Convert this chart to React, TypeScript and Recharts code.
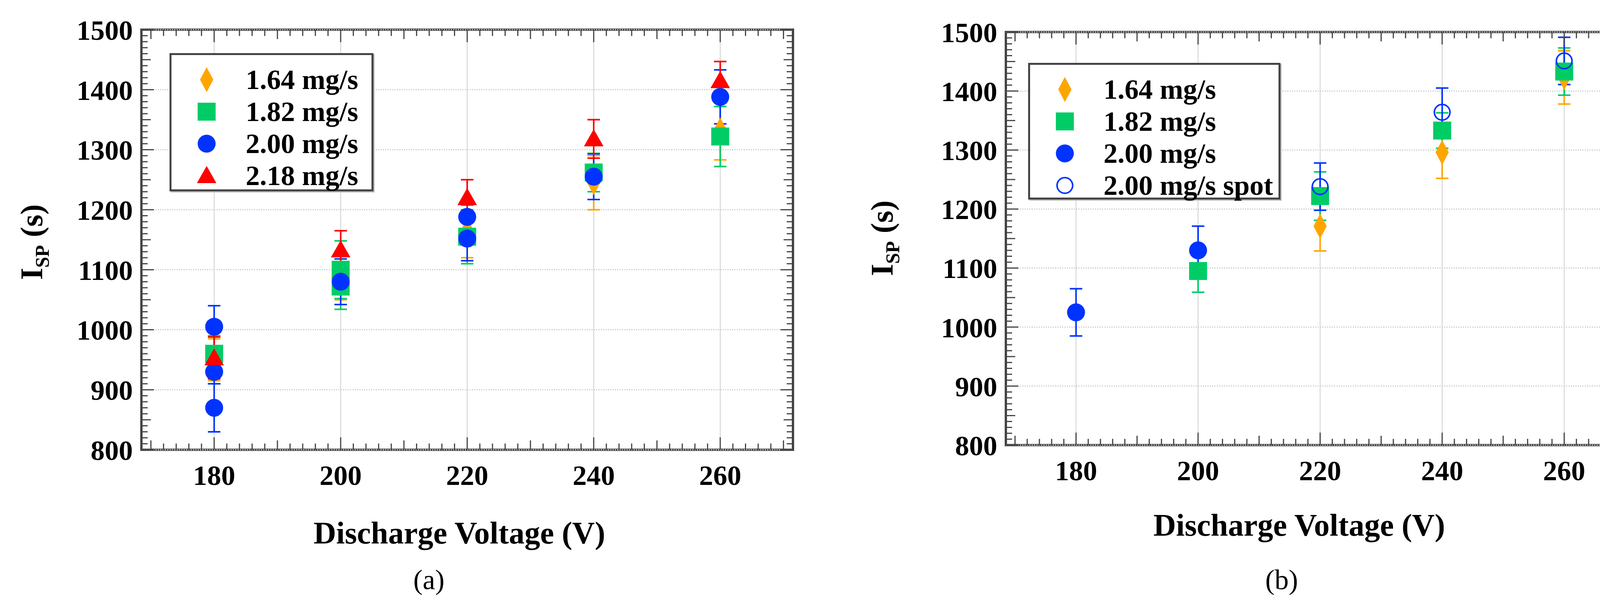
import React from 'react';
import { ScatterChart, Scatter, XAxis, YAxis, ErrorBar, ReferenceLine, ReferenceArea } from 'recharts';

// ---- data (voltage V, Isp s, error s) ----
const aOrange = [ { v: 180, i: 950, e: 35 }, { v: 200, i: 1090, e: 40 }, { v: 220, i: 1165, e: 45 }, { v: 240, i: 1245, e: 45 }, { v: 260, i: 1333, e: 50 } ];
const aGreen = [ { v: 180, i: 960, e: 30 }, { v: 200, i: 1100, e: 48 }, { v: 200, i: 1072, e: 38 }, { v: 220, i: 1155, e: 45 }, { v: 240, i: 1262, e: 32 }, { v: 260, i: 1322, e: 50 } ];
const aBlue = [ { v: 180, i: 1005, e: 35 }, { v: 180, i: 930, e: 20 }, { v: 180, i: 870, e: 40 }, { v: 200, i: 1080, e: 38 }, { v: 220, i: 1188, e: 20 }, { v: 220, i: 1152, e: 37 }, { v: 240, i: 1255, e: 38 }, { v: 260, i: 1388, e: 45 } ];
const aRed = [ { v: 180, i: 953, e: 35 }, { v: 200, i: 1133, e: 32 }, { v: 220, i: 1220, e: 30 }, { v: 240, i: 1318, e: 32 }, { v: 260, i: 1415, e: 32 } ];

const bOrange = [ { v: 220, i: 1171, e: 42 }, { v: 240, i: 1296, e: 44 }, { v: 260, i: 1423, e: 45 } ];
const bGreen = [ { v: 200, i: 1095, e: 36 }, { v: 220, i: 1222, e: 41 }, { v: 240, i: 1333, e: 30 }, { v: 260, i: 1433, e: 40 } ];
const bBlue = [ { v: 180, i: 1025, e: 40 }, { v: 200, i: 1130, e: 41 } ];
const bSpot = [ { v: 220, i: 1238, e: 40 }, { v: 240, i: 1364, e: 41 }, { v: 260, i: 1451, e: 40 } ];

const xMajor = [180, 200, 220, 240, 260];
const xMid = [170, 190, 210, 230, 250, 270];
const xAll = [170,172,174,176,178,180,182,184,186,188,190,192,194,196,198,200,202,204,206,208,210,212,214,216,218,220,222,224,226,228,230,232,234,236,238,240,242,244,246,248,250,252,254,256,258,260,262,264,266,268,270];
const yMajor = [800, 900, 1000, 1100, 1200, 1300, 1400, 1500];
const yMid = [850, 950, 1050, 1150, 1250, 1350, 1450];
const yAll = [800,810,820,830,840,850,860,870,880,890,900,910,920,930,940,950,960,970,980,990,1000,1010,1020,1030,1040,1050,1060,1070,1080,1090,1100,1110,1120,1130,1140,1150,1160,1170,1180,1190,1200,1210,1220,1230,1240,1250,1260,1270,1280,1290,1300,1310,1320,1330,1340,1350,1360,1370,1380,1390,1400,1410,1420,1430,1440,1450,1460,1470,1480,1490,1500];

const ORANGE = '#FFA500', GREEN = '#00CC66', BLUE = '#0033FF', RED = '#FF0000';
const FONT = '"Liberation Serif", "DejaVu Serif", serif';
const AX = '#444';
const XDOM: [number, number] = [168.5, 271.5];
const YDOM: [number, number] = [800, 1500];

const Diamond = (c: string, w = 34, h = 64) => (p: any) => (
  <polygon points={`${p.cx},${p.cy - h / 2} ${p.cx + w / 2},${p.cy} ${p.cx},${p.cy + h / 2} ${p.cx - w / 2},${p.cy}`} fill={c} />
);
const Square = (c: string, s = 46) => (p: any) => <rect x={p.cx - s / 2} y={p.cy - s / 2} width={s} height={s} fill={c} />;
const Circle = (c: string, r = 23) => (p: any) => <ellipse cx={p.cx} cy={p.cy} rx={r} ry={r} fill={c} />;
const Ring = (c: string, r = 20) => (p: any) => <ellipse cx={p.cx} cy={p.cy} rx={r} ry={r} fill="none" stroke={c} strokeWidth={4} />;
const Tri = (c: string, s = 50) => (p: any) => (
  <polygon points={`${p.cx},${p.cy - s / 2} ${p.cx + s / 2},${p.cy + s / 2 - 6} ${p.cx - s / 2},${p.cy + s / 2 - 6}`} fill={c} />
);

const tickLen = (v: number, major: number[], mid: number[]) => (major.includes(v) ? 32 : mid.includes(v) ? 24 : 16);

const XTick = (plotH: number) => (p: any) => {
  const v = p.payload.value;
  const len = tickLen(v, xMajor, xMid);
  const top = p.y - plotH;
  return (
    <g>
      <line x1={p.x} x2={p.x} y1={p.y} y2={p.y - len} stroke={AX} strokeWidth={3} />
      <line x1={p.x} x2={p.x} y1={top} y2={top + len} stroke={AX} strokeWidth={3} />
      {xMajor.includes(v) && (
        <text x={p.x} y={p.y + 90} textAnchor="middle" fontSize={72} fontFamily={FONT} fontWeight="bold" fill="#000">{v}</text>
      )}
    </g>
  );
};

const YTick = (plotW: number) => (p: any) => {
  const v = p.payload.value;
  const len = tickLen(v, yMajor, yMid);
  const right = p.x + plotW;
  return (
    <g>
      <line x1={p.x} x2={p.x + len} y1={p.y} y2={p.y} stroke={AX} strokeWidth={3} />
      <line x1={right} x2={right - len} y1={p.y} y2={p.y} stroke={AX} strokeWidth={3} />
      {yMajor.includes(v) && (
        <text x={p.x - 22} y={p.y} dy="0.36em" textAnchor="end" fontSize={72} fontFamily={FONT} fontWeight="bold" fill="#000">{v}</text>
      )}
    </g>
  );
};

type Series = { name: string; data: any[]; color: string; shape: (c: string) => (p: any) => any };

function Panel({ series, width, height, margin, yW, xH }: { series: Series[]; width: number; height: number; margin: any; yW: number; xH: number }) {
  const plotW = width - yW - margin.right;
  const plotH = height - margin.top - xH;
  return (
    <ScatterChart width={width} height={height} margin={margin}>
      <XAxis type="number" dataKey="v" domain={XDOM} allowDataOverflow ticks={xAll} interval={0} height={xH} tickLine={false} tickSize={0} tickMargin={0}
        axisLine={false} tick={XTick(plotH)} />
      <YAxis type="number" dataKey="i" domain={YDOM} allowDataOverflow ticks={yAll} interval={0} width={yW} tickLine={false} tickSize={0} tickMargin={0}
        axisLine={false} tick={YTick(plotW)} />
      {xMajor.map((v) => <ReferenceLine key={'gx' + v} x={v} stroke="#cfcfcf" strokeWidth={2} />)}
      {yMajor.map((v) => <ReferenceLine key={'gy' + v} y={v} stroke="#cfcfcf" strokeWidth={3} strokeDasharray="3 3" />)}
      <ReferenceArea x1={XDOM[0]} x2={XDOM[1]} y1={YDOM[0]} y2={YDOM[1]} fill="none" fillOpacity={0} stroke={AX} strokeWidth={6} ifOverflow="visible" />
      {series.map((s) => (
        <Scatter key={s.name} name={s.name} data={s.data} isAnimationActive={false} shape={s.shape(s.color)}>
          <ErrorBar dataKey="e" direction="y" width={16} stroke={s.color} strokeWidth={4} />
        </Scatter>
      ))}
    </ScatterChart>
  );
}

function LegendBox({ series, left, top, width, height, rowH, mx, tx }: any) {
  return (
    <div style={{ position: 'absolute', left, top, width, height, background: '#fff', border: '5px solid #444', boxSizing: 'border-box', boxShadow: '3px 3px 0 #bbb' }}>
      {series.map((s: Series, k: number) => (
        <div key={s.name} style={{ position: 'absolute', left: 0, top: 22 + k * rowH, height: rowH, width: '100%' }}>
          <svg style={{ position: 'absolute', left: mx - 35, top: 0 }} width={70} height={rowH}>
            {s.shape(s.color)({ cx: 35, cy: rowH / 2 })}
          </svg>
          <div style={{ position: 'absolute', left: tx, top: 0, lineHeight: `${rowH}px`, fontFamily: FONT, fontWeight: 'bold', fontSize: 72, whiteSpace: 'nowrap' }}>{s.name}</div>
        </div>
      ))}
    </div>
  );
}

function YTitle({ cx, cy }: { cx: number; cy: number }) {
  return (
    <div style={{ position: 'absolute', left: cx - 200, top: cy - 50, width: 400, height: 100, transform: 'rotate(-90deg)', textAlign: 'center',
      fontFamily: FONT, fontWeight: 'bold', fontSize: 80, lineHeight: '100px', whiteSpace: 'nowrap' }}>
      I<sub style={{ fontSize: 50 }}>SP</sub> (s)
    </div>
  );
}

function Caption({ cx, cy, text, size, bold }: any) {
  return (
    <div style={{ position: 'absolute', left: cx - 600, top: cy - 60, width: 1200, height: 120, lineHeight: '120px', textAlign: 'center',
      fontFamily: FONT, fontWeight: bold ? 'bold' : 'normal', fontSize: size, whiteSpace: 'nowrap' }}>{text}</div>
  );
}

export default function App() {
  const seriesA: Series[] = [
    { name: '1.64 mg/s', data: aOrange, color: ORANGE, shape: Diamond as any },
    { name: '1.82 mg/s', data: aGreen, color: GREEN, shape: Square as any },
    { name: '2.00 mg/s', data: aBlue, color: BLUE, shape: Circle as any },
    { name: '2.18 mg/s', data: aRed, color: RED, shape: Tri as any },
  ];
  const seriesB: Series[] = [
    { name: '1.64 mg/s', data: bOrange, color: ORANGE, shape: Diamond as any },
    { name: '1.82 mg/s', data: bGreen, color: GREEN, shape: Square as any },
    { name: '2.00 mg/s', data: bBlue, color: BLUE, shape: Circle as any },
    { name: '2.00 mg/s spot', data: bSpot, color: BLUE, shape: Ring as any },
  ];
  return (
    <div style={{ position: 'absolute', left: 0, top: 0, width: 4224, height: 1547, background: '#fff', overflow: 'hidden' }}>
      <div style={{ position: 'absolute', left: 0, top: 0 }}>
        <Panel series={seriesA} width={2100} height={1547} margin={{ top: 76, right: 70, left: 0, bottom: 0 }} yW={362} xH={395} />
      </div>
      <div style={{ position: 'absolute', left: 2100, top: 0 }}>
        <Panel series={seriesB} width={2124} height={1547} margin={{ top: 82, right: 40, left: 0, bottom: 0 }} yW={475} xH={407} />
      </div>
      <LegendBox series={seriesA} left={434} top={136} width={522} height={354} rowH={82} mx={90} tx={190} />
      <LegendBox series={seriesB} left={2632} top={161} width={646} height={350} rowH={82} mx={89} tx={188} />
      <YTitle cx={81} cy={620} />
      <YTitle cx={2258} cy={610} />
      <Caption cx={1176} cy={1365} text="Discharge Voltage (V)" size={80} bold />
      <Caption cx={3326} cy={1345} text="Discharge Voltage (V)" size={80} bold />
      <Caption cx={1098} cy={1485} text="(a)" size={72} />
      <Caption cx={3281} cy={1485} text="(b)" size={72} />
    </div>
  );
}
